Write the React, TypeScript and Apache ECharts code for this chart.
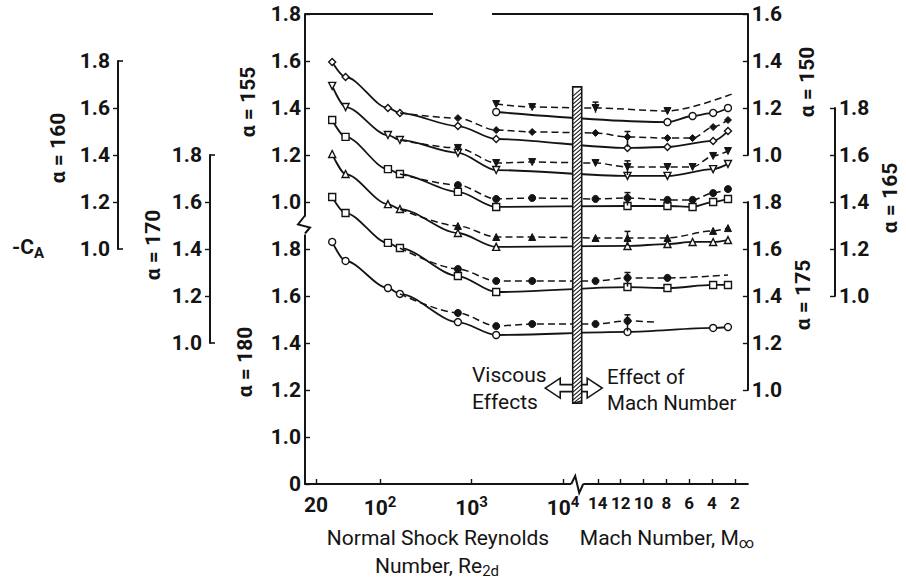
import React, { useEffect, useRef } from 'react';
import * as echarts from 'echarts';

const FONT = "Roboto, 'DejaVu Sans Condensed', sans-serif";
const INK = '#141414';

// ---- data ----
const alphas = [150, 155, 160, 165, 170, 175, 180];
// position (in 0.2 steps above the common baseline) of each alpha's 1.0 line
const alphaBase = [7, 6, 5, 4, 3, 2, 1];

// x positions of the points
const reSolid = [30, 42, 122, 165, 710, 1860];
const machSolid = [11.4, 7.9, 5.7, 3.9, 2.6];
const reDashed = [165, 710, 1860, 4600];
const machDashed = [14.2, 11.4, 9.0, 7.9, 5.7, 3.9, 2.6, 2.0];

// -C_A, solid curves (open symbols)
const cSolidRe = [
  [null, null, null, null, null, 1.183],
  [1.596, 1.532, 1.4, 1.379, 1.323, 1.268],
  [1.694, 1.604, 1.485, 1.464, 1.409, 1.336],
  [1.749, 1.677, 1.54, 1.519, 1.443, 1.379],
  [1.804, 1.719, 1.591, 1.57, 1.468, 1.409],
  [1.821, 1.753, 1.626, 1.604, 1.485, 1.417],
  [1.83, 1.749, 1.634, 1.609, 1.489, 1.434],
];
const cSolidMach = [
  [null, 1.14, 1.166, 1.179, 1.2],
  [1.23, 1.234, null, 1.26, 1.302],
  [1.311, 1.311, null, 1.34, 1.362],
  [1.383, 1.383, 1.379, 1.4, 1.413],
  [1.413, 1.421, 1.43, 1.43, 1.438],
  [1.438, 1.434, null, 1.447, 1.447],
  [1.447, null, null, 1.464, 1.468],
];
// -C_A, dashed curves (filled symbols)
const cDashedRe = [
  [null, null, 1.217, 1.204],
  [1.379, 1.357, 1.306, 1.298],
  [1.464, 1.43, 1.366, 1.37],
  [1.519, 1.472, 1.413, 1.417],
  [1.57, 1.498, 1.451, 1.451],
  [1.604, 1.515, 1.464, 1.464],
  [1.609, 1.528, 1.472, 1.481],
];
const cDashedMach = [
  [1.2, null, null, 1.187, null, null, null, 1.264],
  [1.294, 1.277, null, 1.272, 1.272, 1.319, 1.349, null],
  [1.366, 1.349, null, 1.349, 1.349, 1.396, 1.417, null],
  [1.413, 1.417, null, 1.409, 1.409, 1.438, 1.455, null],
  [1.447, 1.447, null, 1.447, null, 1.477, 1.489, null],
  [1.464, 1.477, null, 1.477, null, null, 1.489, null],
  [1.481, 1.494, 1.489, null, null, null, null, null],
];
const dashedBareEnd = [true, false, false, false, false, true, true];

// error bars (Mach number, low, high)
const errMach = [14.2, 11.4, 11.4, 11.4, 11.4, 11.4, 11.4];
const errLow = [1.18, 1.235, 1.315, 1.385, 1.415, 1.44, 1.45];
const errHigh = [1.225, 1.3, 1.375, 1.44, 1.475, 1.5, 1.52];

const solidSymbols = ['circle', 'diamond', 'triangle', 'rect', 'triangle', 'rect', 'circle'];
const solidRotate = [0, 0, 180, 0, 0, 0, 0];
const dashedSymbols = ['triangle', 'diamond', 'triangle', 'circle', 'triangle', 'circle', 'circle'];
const dashedRotate = [180, 0, 180, 0, 0, 0, 0];

// axis labels
const yLabels = ['0', '1.0', '1.2', '1.4', '1.6', '1.8', '1.0', '1.2', '1.4', '1.6', '1.8'];
const xTickRe = [20, 100, 1000, 10000];
const xTickReLabels = ['20', '10{s|2}', '10{s|3}', '10{s|4}'];
const xTickMach = [14, 12, 10, 8, 6, 4, 2];

const auxAxes = [
  { alpha: 150, base: 7, max: 1.6, side: 'right', x: 0 },
  { alpha: 175, base: 2, max: 1.8, side: 'right', x: 0 },
  { alpha: 165, base: 4, max: 1.8, side: 'right', x: 835 },
  { alpha: 160, base: 5, max: 1.8, side: 'left', x: 118 },
  { alpha: 170, base: 3, max: 1.8, side: 'left', x: 210 },
];

// ---- layout ----
const TOP = 14;
const STEP = 47;
const LEFT = 305;
const U_MIN = 1.18;
const U_MAX = 6.02;
const PX_PER_U = 91.5;
const GRID_W = (U_MAX - U_MIN) * PX_PER_U;
const BREAK_U = 4.155;
const TICK_FS = 21;

const reToU = (re: number) => Math.log10(re);
const machToU = (m: number) => 4.38 + (14 - m) * 0.1248;

const xTickU = [...xTickRe.map(reToU), ...xTickMach.map(machToU)];
const xTickLabels = [...xTickReLabels, ...xTickMach.map((m) => '{m|' + m + '}')];

function xLabel(v: number) {
  let best = 0;
  let bd = Infinity;
  xTickU.forEach((u, i) => {
    const d = Math.abs(u - v);
    if (d < bd) { bd = d; best = i; }
  });
  return xTickLabels[best];
}

function buildOption() {
  const grids: any[] = [{ left: LEFT, top: TOP, width: GRID_W, height: STEP * 10, containLabel: false }];
  const xAxes: any[] = [{
    type: 'value', gridIndex: 0, min: U_MIN, max: U_MAX, position: 'bottom',
    axisLine: { show: true, onZero: false, lineStyle: { color: INK, width: 2 } },
    axisTick: { show: true, inside: true, length: 5, customValues: xTickU, lineStyle: { color: INK, width: 1.4 } },
    axisLabel: {
      show: true, customValues: xTickU, formatter: (v: number) => xLabel(v), margin: 10,
      color: INK, fontFamily: FONT, fontSize: TICK_FS, fontWeight: 'bold',
      rich: {
        s: { fontSize: 15, fontFamily: FONT, fontWeight: 'bold', color: INK, padding: [0, 0, 12, 0] },
        m: { fontSize: 17, fontFamily: FONT, fontWeight: 'bold', color: INK },
      },
    },
    splitLine: { show: false },
  }];
  const yAxes: any[] = [{
    type: 'value', gridIndex: 0, min: 0, max: 10, interval: 1, position: 'left',
    axisLine: { show: true, onZero: false, lineStyle: { color: INK, width: 2 } },
    axisTick: { show: true, inside: true, length: 5, lineStyle: { color: INK, width: 1.4 } },
    axisLabel: {
      formatter: (v: number) => yLabels[Math.round(v)], margin: 4,
      fontSize: TICK_FS, fontWeight: 'bold', fontFamily: FONT, color: INK,
    },
    splitLine: { show: false },
  }];
  alphas.forEach((a, k) => {
    const mn = 1 - alphaBase[k] * 0.2;
    yAxes.push({ type: 'value', gridIndex: 0, min: mn, max: mn + 2, show: false });
  });
  auxAxes.forEach((ax, i) => {
    const steps = (ax.max - 1) / 0.2;
    const x = ax.x || LEFT + GRID_W;
    grids.push({
      left: ax.side === 'right' ? x - 30 : x, width: 30,
      top: TOP + (10 - (ax.base + steps)) * STEP, height: steps * STEP,
    });
    xAxes.push({ type: 'value', gridIndex: i + 1, show: false, min: 0, max: 1 });
    const inner: number[] = [];
    for (let v = 1.2; v < ax.max - 0.01; v += 0.2) inner.push(+v.toFixed(1));
    yAxes.push({
      type: 'value', gridIndex: i + 1, min: 1.0, max: ax.max, interval: 0.2, position: ax.side,
      axisLine: { show: true, onZero: false, lineStyle: { color: INK, width: 2 } },
      axisTick: {
        show: true, inside: ax.side === 'right', length: 5,
        customValues: ax.side === 'right' ? undefined : inner,
        lineStyle: { color: INK, width: 1.4 },
      },
      axisLabel: {
        formatter: (v: number) => v.toFixed(1), margin: ax.side === 'right' ? 4 : 8,
        fontSize: TICK_FS, fontWeight: 'bold', fontFamily: FONT, color: INK,
      },
      splitLine: { show: false },
    });
  });

  const series: any[] = [];
  alphas.forEach((a, k) => {
    const solid: any[] = [];
    reSolid.forEach((re, i) => { const c = cSolidRe[k][i]; if (c != null) solid.push([reToU(re), c]); });
    machSolid.forEach((m, i) => { const c = cSolidMach[k][i]; if (c != null) solid.push([machToU(m), c]); });
    const dashed: any[] = [];
    reDashed.forEach((re, i) => {
      const c = cDashedRe[k][i];
      if (c != null) dashed.push(re === 165 ? { value: [reToU(re), c], symbol: 'none' } : [reToU(re), c]);
    });
    machDashed.forEach((m, i) => { const c = cDashedMach[k][i]; if (c != null) dashed.push([machToU(m), c]); });
    if (dashedBareEnd[k]) {
      const last = dashed[dashed.length - 1];
      dashed[dashed.length - 1] = { value: Array.isArray(last) ? last : last.value, symbol: 'none' };
    }
    series.push({
      name: 'α = ' + a, type: 'line', xAxisIndex: 0, yAxisIndex: k + 1, data: solid,
      smooth: 0.3, smoothMonotone: 'x', symbol: solidSymbols[k], symbolRotate: solidRotate[k], symbolSize: 7,
      showSymbol: true, showAllSymbol: true,
      lineStyle: { color: INK, width: 1.8 }, itemStyle: { color: '#fff', borderColor: INK, borderWidth: 1.4 }, z: 3,
    });
    series.push({
      name: 'α = ' + a + ' (dashed)', type: 'line', xAxisIndex: 0, yAxisIndex: k + 1, data: dashed,
      smooth: 0.3, smoothMonotone: 'x', symbol: dashedSymbols[k], symbolRotate: dashedRotate[k], symbolSize: 7,
      showSymbol: true, showAllSymbol: true,
      lineStyle: { color: INK, width: 1.5, type: [7, 4] }, itemStyle: { color: INK, borderColor: INK, borderWidth: 1 }, z: 4,
    });
    series.push({
      name: 'α = ' + a + ' (error)', type: 'custom', xAxisIndex: 0, yAxisIndex: k + 1,
      data: [[machToU(errMach[k]), errLow[k], errHigh[k]]], z: 5,
      renderItem: (params: any, api: any) => {
        const lo = api.coord([api.value(0), api.value(1)]);
        const hi = api.coord([api.value(0), api.value(2)]);
        const st = { stroke: INK, lineWidth: 1.5 };
        return {
          type: 'group', children: [
            { type: 'line', shape: { x1: lo[0], y1: lo[1], x2: hi[0], y2: hi[1] }, style: st },
            { type: 'line', shape: { x1: hi[0] - 3, y1: hi[1], x2: hi[0] + 3, y2: hi[1] }, style: st },
          ],
        };
      },
    });
  });

  return {
    animation: false,
    backgroundColor: '#fff',
    grid: grids,
    xAxis: xAxes,
    yAxis: yAxes,
    series,
  };
}

function txt(x: number, y: number, text: string, opts: any = {}) {
  return {
    type: 'text', x, y, rotation: opts.rotation || 0, z: 20,
    style: {
      text, fill: INK, fontFamily: FONT, fontSize: opts.fontSize || 21,
      fontWeight: opts.fontWeight || 'normal', align: opts.align || 'left', verticalAlign: opts.verticalAlign || 'middle',
      rich: opts.rich,
    },
  };
}

export default function App() {
  const ref = useRef<HTMLDivElement>(null);
  useEffect(() => {
    const chart = echarts.init(ref.current!, null, { renderer: 'svg' });
    chart.setOption(buildOption());

    const p = (u: number, v: number) => chart.convertToPixel({ xAxisIndex: 0, yAxisIndex: 0 }, [u, v]) as number[];
    const [bx, byTop] = p(BREAK_U, 8.45);
    const byBot = p(BREAK_U, 1.72)[1];
    const [, yBreak] = p(U_MIN, 5.5);
    const [, yBase] = p(U_MIN, 0);
    const [, yArrow] = p(BREAK_U, 2.04);
    const rightX = LEFT + GRID_W;

    const hatch: any[] = [];
    for (let y = byTop + 2; y < byBot; y += 4) {
      hatch.push({ type: 'line', z: 31, shape: { x1: bx - 4, y1: Math.min(y + 7, byBot), x2: bx + 4, y2: y }, style: { stroke: INK, lineWidth: 1.1 } });
    }
    const sub = { fontSize: 15, fontFamily: FONT, fill: INK, padding: [10, 0, 0, 0] };
    const subB = { fontSize: 15, fontFamily: FONT, fontWeight: 'bold', fill: INK, padding: [12, 0, 0, 0] };
    const rot = { rotation: Math.PI / 2, align: 'center', fontWeight: 'bold', fontSize: 21 };

    const graphic: any[] = [
      // top frame line (with its gap)
      { type: 'line', z: 10, shape: { x1: LEFT, y1: TOP, x2: 433, y2: TOP }, style: { stroke: INK, lineWidth: 2 } },
      { type: 'line', z: 10, shape: { x1: 492, y1: TOP, x2: rightX, y2: TOP }, style: { stroke: INK, lineWidth: 2 } },
      // y axis break
      { type: 'rect', z: 10, shape: { x: LEFT - 3, y: yBreak - 9, width: 6, height: 18 }, style: { fill: '#fff' } },
      { type: 'polyline', z: 11, shape: { points: [[LEFT, yBreak - 10], [LEFT - 7, yBreak - 1], [LEFT + 5, yBreak + 2], [LEFT, yBreak + 8]] }, style: { stroke: INK, lineWidth: 2, fill: 'none' } },
      // x axis break
      { type: 'rect', z: 10, shape: { x: bx - 6, y: yBase - 3, width: 12, height: 6 }, style: { fill: '#fff' } },
      { type: 'polyline', z: 11, shape: { points: [[bx - 6, yBase], [bx - 2, yBase - 8], [bx + 2, yBase + 9], [bx + 6, yBase]] }, style: { stroke: INK, lineWidth: 2, fill: 'none' } },
      // double arrow
      {
        type: 'polygon', z: 29,
        shape: { points: [[bx - 32, yArrow], [bx - 17, yArrow - 10], [bx - 17, yArrow - 3.5], [bx + 10, yArrow - 3.5], [bx + 10, yArrow - 10], [bx + 25, yArrow], [bx + 10, yArrow + 10], [bx + 10, yArrow + 3.5], [bx - 17, yArrow + 3.5], [bx - 17, yArrow + 10]] },
        style: { fill: '#fff', stroke: INK, lineWidth: 1.6 },
      },
      // hatched bar
      { type: 'rect', z: 30, shape: { x: bx - 4.5, y: byTop, width: 9, height: byBot - byTop }, style: { fill: '#fff', stroke: INK, lineWidth: 1.6 } },
      ...hatch,
      // hooks at ends of left auxiliary axes
      ...auxAxes.filter((a) => a.side === 'left').flatMap((a) => {
        const yt = TOP + (10 - (a.base + (a.max - 1) / 0.2)) * STEP;
        const yb = TOP + (10 - a.base) * STEP;
        return [
          { type: 'line', z: 10, shape: { x1: a.x, y1: yt, x2: a.x + 5, y2: yt }, style: { stroke: INK, lineWidth: 1.6 } },
          { type: 'line', z: 10, shape: { x1: a.x, y1: yb, x2: a.x + 5, y2: yb }, style: { stroke: INK, lineWidth: 1.6 } },
        ];
      }),
      // alpha labels
      txt(807, 82, 'α = 150', rot),
      txt(248, 102, 'α = 155', rot),
      txt(58, 148, 'α = 160', rot),
      txt(890, 198, 'α = 165', rot),
      txt(153, 245, 'α = 170', rot),
      txt(803, 295, 'α = 175', rot),
      txt(245, 362, 'α = 180', rot),
      txt(12, 247, '-C{s|A}', { fontWeight: 'bold', fontSize: 21, rich: { s: subB } }),
      txt(472, 375, 'Viscous'),
      txt(472, 402, 'Effects'),
      txt(607, 377, 'Effect of', { fontSize: 20.5 }),
      txt(607, 403, 'Mach Number', { fontSize: 20.5 }),
      txt(438, 538, 'Normal Shock Reynolds', { fontSize: 21, align: 'center' }),
      txt(437, 566, 'Number, Re{s|2d}', { fontSize: 21, align: 'center', rich: { s: sub } }),
      txt(667, 538, 'Mach Number, M{s|∞}', { fontSize: 21, align: 'center', rich: { s: sub } }),
    ];
    chart.setOption({ graphic });
    return () => chart.dispose();
  }, []);
  return <div ref={ref} style={{ position: 'fixed', left: 0, top: 0, width: 906, height: 585, background: '#fff' }} />;
}
